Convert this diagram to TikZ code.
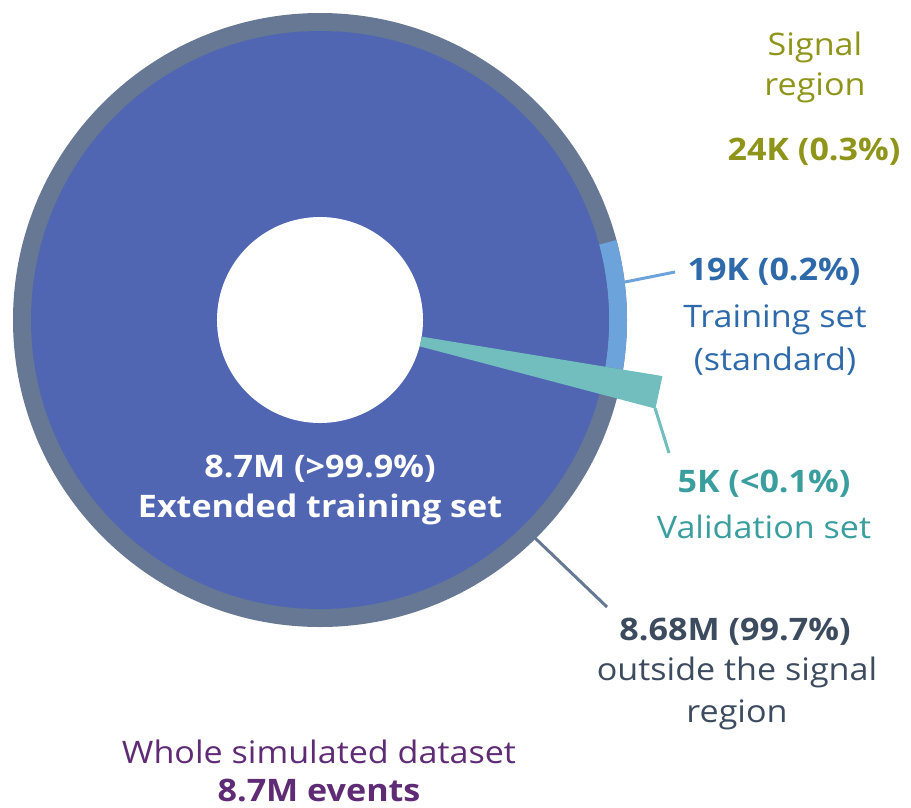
\documentclass[tikz,border=0pt]{standalone}
\usepackage{fontspec}
\setmainfont{Open Sans}[FakeStretch=1.10, BoldFeatures={FakeStretch=1.10}]
\definecolor{ringgray}{HTML}{667894}
\definecolor{mainblue}{HTML}{5066B3}
\definecolor{lightblue}{HTML}{6CA3DA}
\definecolor{tealc}{HTML}{72BDBE}
\definecolor{olivec}{HTML}{8E951A}
\definecolor{txtblue}{HTML}{2E6AAA}
\definecolor{txtteal}{HTML}{3A9E9E}
\definecolor{txtgray}{HTML}{3D4B5E}
\definecolor{txtpurple}{HTML}{5E2B74}
\begin{document}
\begin{tikzpicture}[x=1pt,y=1pt,
  lbl/.style={anchor=base, inner sep=0pt, font=\fontsize{31}{31}\selectfont},
  lblb/.style={anchor=base, inner sep=0pt, font=\fontsize{31}{31}\selectfont\bfseries},
  leader/.style={line width=3pt}]
\useasboundingbox (0,0) rectangle (911,-807);
\coordinate (C) at (320,-320);
% rings
\fill[ringgray] (C) circle (307);
\fill[lightblue, shift={(C)}] (-9.3:289) arc[start angle=-9.3, end angle=15.1, radius=289]
  -- (15.1:307) arc[start angle=15.1, end angle=-9.3, radius=307] -- cycle;
\fill[mainblue] (C) circle (289);
\fill[white] (C) circle (103);
\fill[tealc, shift={(C)}] (-14.8:103) -- (-14.8:347) -- (-9.3:347) -- (-9.3:103)
  arc[start angle=-9.3, end angle=-14.8, radius=103] -- cycle;
% leader coordinates
\coordinate (lbS) at (625,-282); \coordinate (lbE) at (675,-272);
\coordinate (tlS) at (655,-408); \coordinate (tlE) at (669,-453);
\coordinate (glS) at (535,-538); \coordinate (glE) at (607,-607);
\draw[lightblue, leader] (lbS) -- (lbE);
\draw[tealc, leader] (tlS) -- (tlE);
\draw[ringgray, leader] (glS) -- (glE);
% labels
\node[lbl, olivec] (sig1) at (815,-55) {Signal};
\node[lbl, olivec] (sig2) at (815,-95) {region};
\node[lblb, olivec] (sig3) at (814,-160) {24K (0.3\%)};
\node[lblb, txtblue] (tr1) at (774,-280) {19K (0.2\%)};
\node[lbl, txtblue] (tr2) at (775,-327) {Training set};
\node[lbl, txtblue] (tr3) at (775,-370) {(standard)};
\node[lblb, txtteal] (va1) at (764,-492) {5K (<0.1\%)};
\node[lbl, txtteal] (va2) at (764,-538) {Validation set};
\node[lblb, txtgray] (ou1) at (735,-640) {8.68M (99.7\%)};
\node[lbl, txtgray] (ou2) at (737,-680) {outside the signal};
\node[lbl, txtgray] (ou3) at (737,-722) {region};
\node[lblb, white] (ex1) at (320,-477) {8.7M (>99.9\%)};
\node[lblb, white] (ex2) at (320,-517) {Extended training set};
\node[lbl, txtpurple] (wh1) at (319,-763) {Whole simulated dataset};
\node[lblb, txtpurple] (wh2) at (319,-801) {8.7M events};
\end{tikzpicture}
\end{document}
